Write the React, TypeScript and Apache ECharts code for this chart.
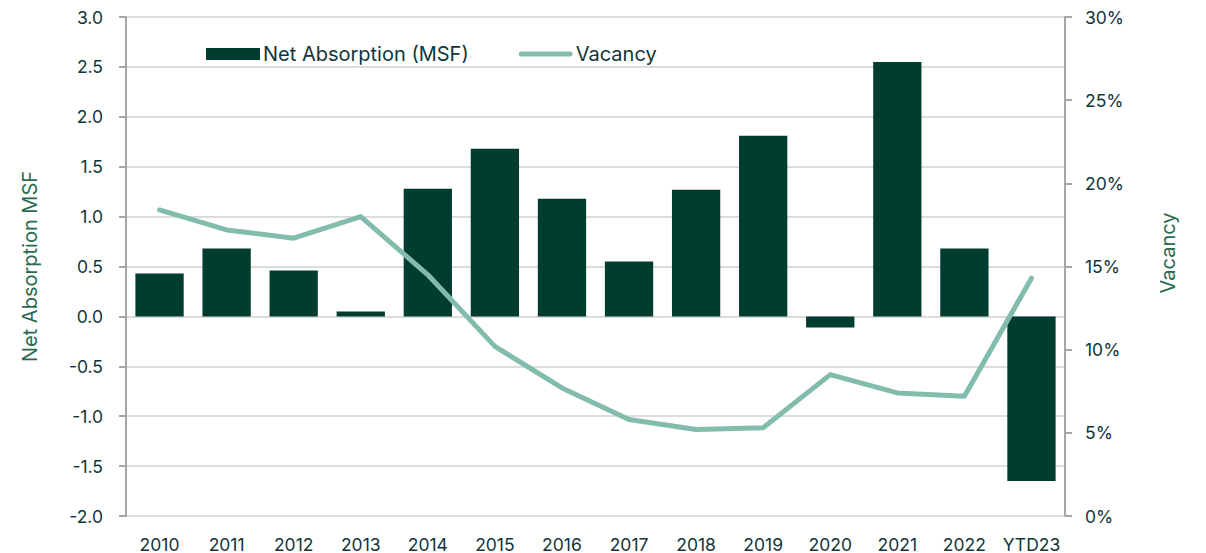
import React, { useEffect, useRef } from "react";
import * as echarts from "echarts";

const categories = ["2010","2011","2012","2013","2014","2015","2016","2017","2018","2019","2020","2021","2022","YTD23"];
const netAbsorption = [0.43, 0.68, 0.46, 0.05, 1.28, 1.68, 1.18, 0.55, 1.27, 1.81, -0.11, 2.55, 0.68, -1.65];
const vacancy = [18.4, 17.2, 16.7, 18.0, 14.5, 10.2, 7.7, 5.8, 5.2, 5.3, 8.5, 7.4, 7.2, 14.3];

const FONT = "Inter, 'Open Sans', sans-serif";
const TEXT = "#12353a";
const NAME = "#2a6b52";

export default function App() {
  const ref = useRef<HTMLDivElement>(null);
  useEffect(() => {
    const chart = echarts.init(ref.current!, null, { renderer: "svg" });
    chart.setOption({
      animation: false,
      textStyle: { fontFamily: FONT },
      grid: { left: 126, right: 141, top: 17, bottom: 37, outerBoundsMode: "none", containLabel: false },
      legend: {
        left: 201,
        top: 39,
        itemGap: 50,
        itemWidth: 54,
        itemHeight: 12,
        textStyle: { fontSize: 20, color: TEXT, fontFamily: FONT, padding: [0, 0, 0, -2] },
        data: [
          { name: "Net Absorption (MSF)", icon: "rect" },
          { name: "Vacancy", icon: "path://M2.5,0 L53.5,0 A2.5,2.5 0 0 1 53.5,5 L2.5,5 A2.5,2.5 0 0 1 2.5,0 Z" },
        ],
      },
      xAxis: {
        type: "category",
        data: categories,
        axisLine: { show: false },
        axisTick: { show: false },
        axisLabel: { fontSize: 17.5, color: TEXT, margin: 19, interval: 0 },
      },
      yAxis: [
        {
          type: "value",
          min: -2,
          max: 3,
          interval: 0.5,
          name: "Net Absorption MSF",
          nameLocation: "middle",
          nameGap: 86,
          nameTextStyle: { fontSize: 20, color: NAME, padding: [0, 0, 0, 0] },
          axisLine: { show: true, lineStyle: { color: "#a6a6a6", width: 2 } },
          axisTick: { show: true, length: 7, lineStyle: { color: "#a6a6a6", width: 2 } },
          axisLabel: { fontSize: 17.5, color: TEXT, margin: 23, formatter: (v: number) => v.toFixed(1) },
          splitLine: { show: true, lineStyle: { color: "#dcdcdc", width: 2 } },
        },
        {
          type: "value",
          min: 0,
          max: 30,
          interval: 5,
          axisLine: { show: true, lineStyle: { color: "#a6a6a6", width: 2 } },
          axisTick: { show: true, length: 7, lineStyle: { color: "#a6a6a6", width: 2 } },
          axisLabel: { fontSize: 17.5, color: TEXT, margin: 20, formatter: (v: number) => v + "%" },
          splitLine: { show: false },
        },
      ],
      graphic: [
        {
          type: "text",
          x: 1168,
          y: 253,
          rotation: Math.PI / 2,
          style: { text: "Vacancy", fontSize: 20, fill: NAME, fontFamily: FONT, align: "center", verticalAlign: "middle" },
        },
      ],
      series: [
        {
          name: "Net Absorption (MSF)",
          type: "bar",
          data: netAbsorption,
          barCategoryGap: "28%",
          itemStyle: { color: "#003d2e" },
        },
        {
          name: "Vacancy",
          type: "line",
          yAxisIndex: 1,
          data: vacancy,
          symbol: "none",
          lineStyle: { color: "#82bcac", width: 5, cap: "round", join: "round" },
          itemStyle: { color: "#82bcac" },
        },
      ],
    });
    return () => chart.dispose();
  }, []);
  return <div ref={ref} style={{ position: "absolute", left: 0, top: 0, width: 1206, height: 553 }} />;
}
